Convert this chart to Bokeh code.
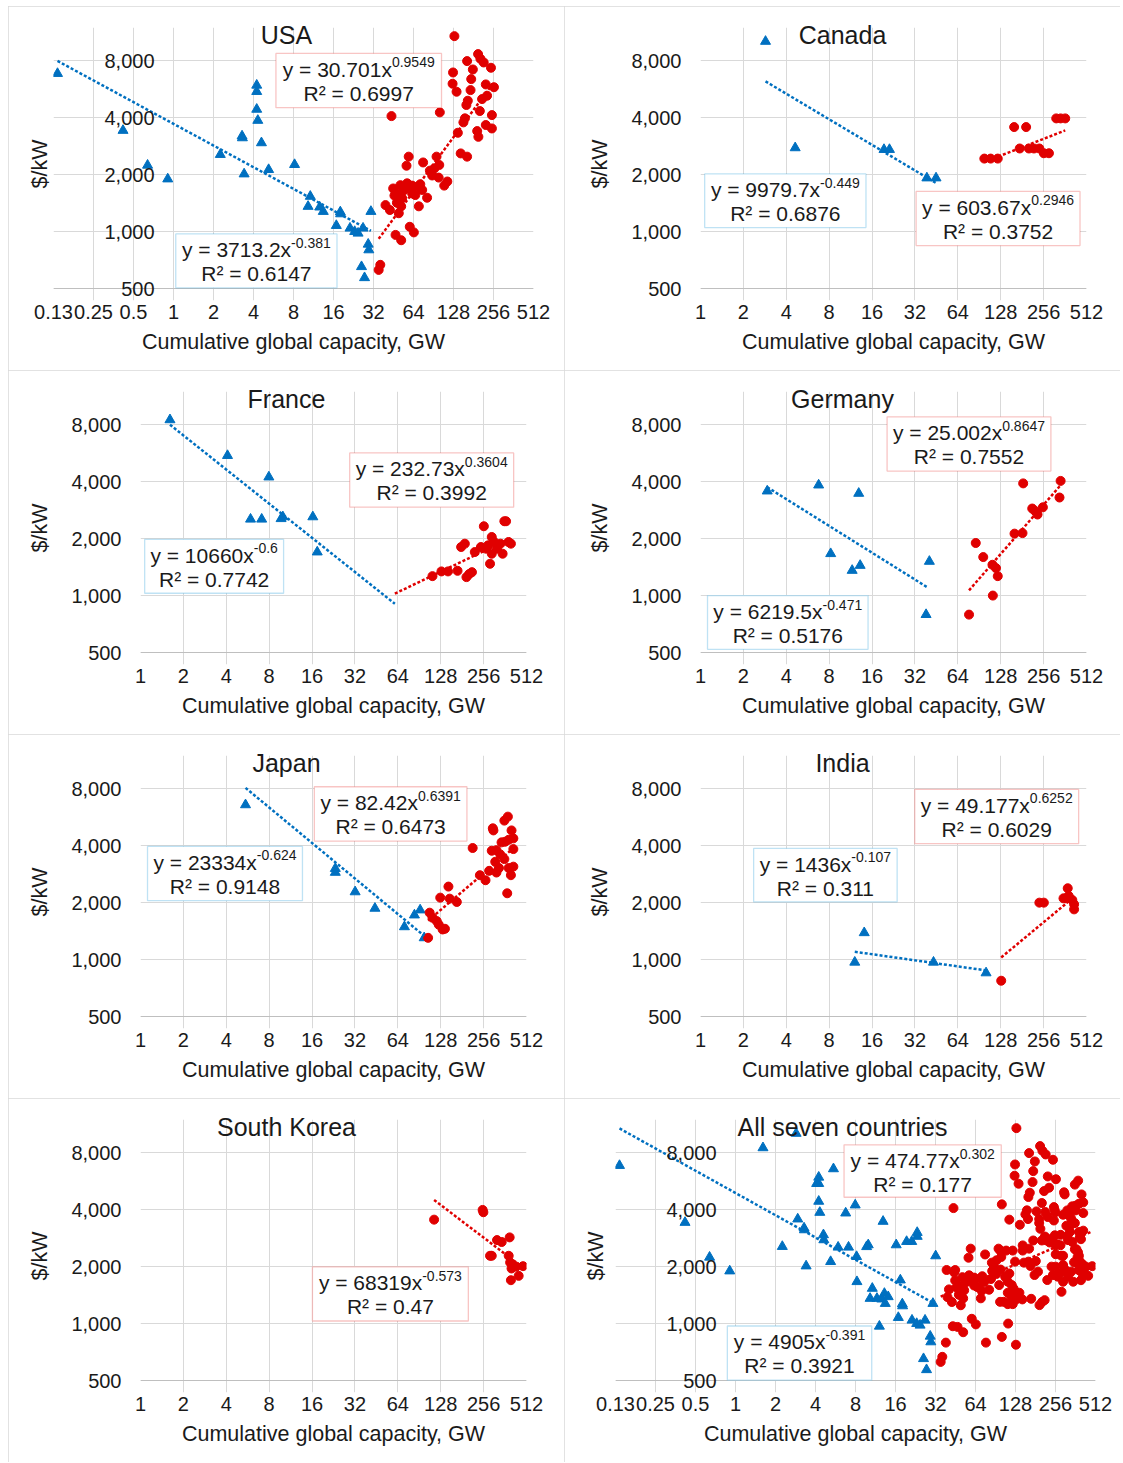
import math
from bokeh.plotting import figure
from bokeh.models import Range1d, FixedTicker, NumeralTickFormatter, BoxAnnotation, Label, Span
from bokeh.layouts import column, row
from bokeh.embed import file_html
from bokeh.resources import INLINE
from bokeh.core.properties import value

FONT = "Liberation Sans"
TXT = "#1A1A1A"
BLUE = "#0070C0"
RED = "#E00000"
BLUE_BOX = "#2B9FDC"
RED_BOX = "#E8403A"
GRID = "#D9D9D9"
AXIS = "#BFBFBF"

PW, PH = 556, 364
TOP, FRAME_H = 21, 261
PAD = 12          # extra view room below the 500 line so its label is never clipped

X_TICKS_WIDE = [0.125, 0.25, 0.5, 1, 2, 4, 8, 16, 32, 64, 128, 256, 512]
X_TICKS_NARROW = [1, 2, 4, 8, 16, 32, 64, 128, 256, 512]
X_LABELS = ["0.13", "0.25", "0.5", "1", "2", "4", "8", "16", "32", "64", "128", "256", "512"]
Y_TICKS = [500, 1000, 2000, 4000, 8000]
Y_LABELS = ["500", "1,000", "2,000", "4,000", "8,000"]
Y_MIN = 500
Y_MAX = 12000
X_AXIS_TITLE = "Cumulative global capacity, GW"
Y_AXIS_TITLE = "$/kW"

# ---------------- data (cumulative global capacity GW, $/kW) ----------------
usa_blue_x = [0.134, 0.417, 0.638, 0.905, 2.25, 3.28, 3.3, 3.4, 4.23, 4.23, 4.23, 4.31, 4.59, 5.2, 8.15,
              10.7, 10.3, 12.6, 13.4, 18.0, 18.1, 16.8, 21.3, 23.1, 24.5, 26.7, 30.6, 29.5, 29.2, 26.0, 27.4]
usa_blue_y = [6850, 3425, 2242, 1897, 2555, 3200, 3130, 2016, 5940, 5500, 4430, 3870, 2946, 2126, 2260,
              1535, 1358, 1347, 1277, 1270, 1240, 1076, 1042, 1000, 980, 1042, 1277, 800, 857, 652, 570]
usa_red_x = [130, 196, 204, 216, 162, 245, 179, 127, 126, 135, 174, 224, 258, 172, 229, 210, 164, 160, 202,
             249, 156, 152, 224, 249, 193, 197, 138, 101, 43.7, 145, 162, 58.9, 95.4, 75.6, 56.7, 92, 88.4,
             115, 109, 99, 45, 51, 57.3, 62.5, 69, 74.4, 81, 48.2, 52.6, 62.5, 70.2, 39.4, 42.5, 51.7, 49.6,
             60, 64.4, 46.9, 51.7, 36, 35, 46, 54, 60, 66, 72, 85, 100, 48]
usa_red_y = [10800, 8680, 8200, 7840, 7970, 7350, 7200, 6940, 6050, 5490, 6400, 6000, 5800, 5600, 5230, 5020,
             4920, 4670, 4340, 4130, 3970, 3780, 3660, 3510, 3400, 3170, 3330, 4270, 4080, 2590, 2490, 2490,
             2490, 2320, 2230, 2160, 1980, 1840, 1750, 1930, 1690, 1760, 1800, 1750, 1730, 1660, 1510, 1590,
             1500, 1590, 1360, 1380, 1300, 1360, 1250, 1060, 990, 960, 900, 667, 627, 1550, 1650, 1700,
             1560, 1780, 2100, 2250, 1420]

can_blue_x = [2.86, 4.62, 19.4, 21.2, 38.8, 45]
can_blue_y = [10130, 2772, 2715, 2715, 1920, 1920]
can_red_x = [98.2, 108.8, 122, 159, 193, 174, 202, 219, 239, 257, 279, 314, 337, 363]
can_red_y = [2432, 2432, 2432, 3570, 3570, 2750, 2750, 2750, 2750, 2596, 2596, 3967, 3967, 3967]

fra_blue_x = [1.61, 4.08, 7.96, 5.92, 7.09, 9.98, 9.7, 16.2, 17.4]
fra_blue_y = [8500, 5500, 4235, 2534, 2534, 2607, 2550, 2607, 1699]
fra_red_x = [112, 129.5, 144, 168, 194, 212, 203, 178, 189, 257, 358, 368, 222, 245, 275, 292, 304, 318,
             336, 348, 284, 292, 383, 398, 266]
fra_red_y = [1267, 1342, 1342, 1352, 1252, 1330, 1300, 1806, 1881, 2326, 2472, 2472, 1699, 1806, 1843, 2041,
             1920, 1770, 1881, 1665, 1473, 1665, 1920, 1881, 1770]

deu_blue_x = [2.94, 6.75, 12.9, 8.2, 11.6, 13.2, 40.4, 38.3]
deu_blue_y = [3570, 3840, 3470, 1665, 1358, 1443, 1516, 793]
deu_red_x = [76.7, 85.5, 96.5, 112, 118.6, 122, 112.7, 160, 182, 184, 213, 222, 232, 253, 337, 331]
deu_red_y = [793, 1897, 1598, 1455, 1397, 1267, 1000, 2126, 2140, 3920, 2886, 2810, 2683, 2930, 4040, 3300]

jpn_blue_x = [5.46, 23.3, 23.3, 32.1, 44.2, 71.2, 83.7, 91.8, 98]
jpn_blue_y = [6580, 3030, 2890, 2280, 1866, 1490, 1720, 1829, 1303]
jpn_red_x = [104.4, 107, 112, 120, 124, 132, 137, 127, 145, 148, 166, 214.5, 241, 264, 280, 297, 300, 292,
             315, 309, 315, 342, 362, 384, 358, 379, 402, 414, 414, 335, 358, 384, 398, 414, 375, 328]
jpn_red_y = [1303, 1770, 1665, 1598, 1530, 1443, 1455, 2126, 2432, 2100, 2017, 3890, 2794, 2628, 2946, 4945,
             4820, 3763, 3790, 3290, 2886, 4167, 4200, 4300, 5430, 5700, 4820, 4375, 3840, 3600, 3400, 3050,
             2794, 3100, 2242, 3050]

ind_blue_x = [12.1, 14.1, 43.2, 101]
ind_blue_y = [968, 1386, 968, 850]
ind_red_x = [129, 239, 257, 353, 378, 384, 407, 419, 419, 368]
ind_red_y = [773, 2000, 2000, 2108, 2383, 2170, 2066, 1960, 1843, 2108]

kor_blue_x = []
kor_blue_y = []
kor_red_x = [115, 252, 255, 318, 343, 284, 292, 390, 384, 393, 414, 402, 451, 398, 484, 434]
kor_red_y = [3545, 3990, 3880, 2764, 2700, 2283, 2283, 2856, 2283, 2104, 2021, 1956, 1788, 1696, 2012, 2000]

# the pooled panel splits every observation at this cumulative capacity
ALL_SPLIT_GW = 33

# power-law trendlines: [coefficient, exponent, x start, x end]
usa_blue_fit = [3713.2, -0.381, 0.134, 30.6]
usa_red_fit = [30.701, 0.9549, 35, 258]
can_blue_fit = [9979.7, -0.449, 2.86, 45]
can_red_fit = [603.67, 0.2946, 98.2, 363]
fra_blue_fit = [10660, -0.6, 1.61, 61]
fra_red_fit = [232.73, 0.3604, 61, 398]
deu_blue_fit = [6219.5, -0.471, 2.94, 38.7]
deu_red_fit = [25.002, 0.8647, 76.7, 337]
jpn_blue_fit = [23334, -0.624, 5.46, 98]
jpn_red_fit = [82.42, 0.6391, 104.4, 414]
ind_blue_fit = [1436, -0.107, 12.1, 101]
ind_red_fit = [49.177, 0.6252, 129, 419]
kor_red_fit = [68319, -0.573, 115, 484]
all_blue_fit = [4905, -0.391, 0.134, 30.6]
all_red_fit = [474.77, 0.302, 35, 484]

# equation labels: [main, superscript, r-squared]
usa_blue_eq = ["y = 3713.2x", "-0.381", "R² = 0.6147"]
usa_red_eq = ["y = 30.701x", "0.9549", "R² = 0.6997"]
can_blue_eq = ["y = 9979.7x", "-0.449", "R² = 0.6876"]
can_red_eq = ["y = 603.67x", "0.2946", "R² = 0.3752"]
fra_blue_eq = ["y = 10660x", "-0.6", "R² = 0.7742"]
fra_red_eq = ["y = 232.73x", "0.3604", "R² = 0.3992"]
deu_blue_eq = ["y = 6219.5x", "-0.471", "R² = 0.5176"]
deu_red_eq = ["y = 25.002x", "0.8647", "R² = 0.7552"]
jpn_blue_eq = ["y = 23334x", "-0.624", "R² = 0.9148"]
jpn_red_eq = ["y = 82.42x", "0.6391", "R² = 0.6473"]
ind_blue_eq = ["y = 1436x", "-0.107", "R² = 0.311"]
ind_red_eq = ["y = 49.177x", "0.6252", "R² = 0.6029"]
kor_red_eq = ["y = 68319x", "-0.573", "R² = 0.47"]
all_blue_eq = ["y = 4905x", "-0.391", "R² = 0.3921"]
all_red_eq = ["y = 474.77x", "0.302", "R² = 0.177"]

# label box placement in data units: [left, right, bottom, top]
usa_blue_box = [1.04, 17, 504, 972]
usa_red_box = [5.9, 104, 4520, 8750]
can_blue_box = [1.07, 14.5, 1050, 2017]
can_red_box = [32.6, 461, 843, 1630]
fra_blue_box = [1.07, 10.1, 1029, 1983]
fra_red_box = [29.4, 416, 2934, 5680]
deu_blue_box = [1.12, 15, 520, 1000]
deu_red_box = [20.4, 288, 4556, 8820]
jpn_blue_box = [1.12, 13.7, 2049, 3967]
jpn_red_box = [16.6, 195.5, 4235, 8200]
ind_blue_box = [2.36, 24, 2017, 3870]
ind_red_box = [31.9, 451, 4100, 7935]
kor_red_box = [16.1, 200, 1032, 1995]
all_blue_box = [0.868, 10.6, 502, 971]
all_red_box = [6.56, 100, 4655, 8820]

# ---------------- helpers ----------------
CW = {' ': 0.278, '=': 0.584, '.': 0.278, ',': 0.278, '-': 0.333, 'x': 0.5, 'y': 0.5, 'R': 0.722, '²': 0.333}


def text_w(s, size):
    return sum(CW.get(c, 0.556) for c in s) * size


def add_text(p, x, y, s, size, align="center", xo=0, yo=0, color=TXT):
    r = p.text(x=[x], y=[y], text=[s], x_offset=xo, y_offset=yo, text_align=align,
               text_baseline="middle", text_font=value(FONT), text_font_size=f"{size}px",
               text_color=color)
    r.level = "overlay"
    return r


def add_equation(p, eq, box, line_color):
    l, r, b, t = box
    p.add_layout(BoxAnnotation(left=l, right=r, bottom=b, top=t, fill_color="white", fill_alpha=1,
                               line_color=line_color, line_width=1.3, level="annotation"))
    xc = math.sqrt(l * r)
    wm = text_w(eq[0], 21)
    ws = text_w(eq[1], 14)
    shift = (wm - ws) / 2
    add_text(p, xc, t, eq[0], 21, align="right", xo=shift, yo=16)
    add_text(p, xc, t, eq[1], 14, align="left", xo=shift, yo=9)
    add_text(p, xc, t, eq[2], 21, align="center", yo=40)


def add_fit(p, fit, color):
    a, b, x0, x1 = fit
    p.line([x0, x1], [a * x0 ** b, a * x1 ** b], line_color=color, line_width=2.5, line_dash="3 2")


def style_text_axis(ax):
    ax.axis_label_text_font = FONT
    ax.axis_label_text_font_style = "normal"
    ax.axis_label_text_font_size = "21.5px"
    ax.axis_label_text_color = TXT
    ax.major_label_text_font = FONT
    ax.major_label_text_font_size = "20px"
    ax.major_label_text_color = TXT
    ax.major_tick_line_color = None
    ax.minor_tick_line_color = None
    ax.major_tick_out = 0
    ax.major_tick_in = 0


def make_panel(title, bx, by, rx, ry, fits, eqs, wide, left):
    if wide:
        xmin, frame_w, ticks = 0.125, 480, X_TICKS_WIDE
    else:
        xmin, frame_w, ticks = 1, 386, X_TICKS_NARROW
    right = PW - left - frame_w
    per_y = FRAME_H / math.log2(Y_MAX / Y_MIN)
    y_low = Y_MIN / 2 ** (PAD / per_y)
    p = figure(width=PW, height=PH, x_axis_type="log", y_axis_type="log",
               x_range=Range1d(xmin, 512), y_range=Range1d(y_low, Y_MAX),
               output_backend="svg", toolbar_location=None,
               min_border_left=left, min_border_right=right, min_border_top=TOP,
               min_border_bottom=PH - TOP - FRAME_H - PAD)
    p.outline_line_color = None
    p.background_fill_color = "white"
    p.border_fill_color = "white"
    p.styles = {"outline": "1px solid #D9D9D9", "outline-offset": "-1px"}

    p.xgrid.grid_line_color = GRID
    p.xgrid.bounds = (Y_MIN, Y_MAX)
    p.ygrid.grid_line_color = GRID
    p.ygrid.ticker = FixedTicker(ticks=Y_TICKS)

    xa = p.xaxis[0]
    style_text_axis(xa)
    xa.ticker = FixedTicker(ticks=ticks)
    xa.major_label_overrides = {t: lab for t, lab in zip(X_TICKS_WIDE, X_LABELS)}
    xa.axis_line_color = None
    xa.major_label_standoff = 16 - PAD
    xa.axis_label = X_AXIS_TITLE
    xa.axis_label_standoff = 8
    p.add_layout(Span(location=Y_MIN, dimension="width", line_color=AXIS, line_width=1.2))

    ya = p.yaxis[0]
    style_text_axis(ya)
    ya.axis_line_color = None
    ya.axis_label = Y_AXIS_TITLE
    if wide:
        # value axis crosses at x = 1, so its numbers sit inside the plot area
        ya.ticker = FixedTicker(ticks=[])
        ya.major_label_standoff = 0
        ya.axis_label_standoff = left - 31 - 12
        for t, lab in zip(Y_TICKS, Y_LABELS):
            p.add_layout(Label(x=1, y=t, text=lab, x_offset=-19, text_align="right",
                               text_baseline="middle", text_font=FONT, text_font_size="20px",
                               text_color=TXT))
    else:
        ya.ticker = FixedTicker(ticks=Y_TICKS)
        ya.formatter = NumeralTickFormatter(format="0,0")
        ya.major_label_standoff = 19
        ya.axis_label_standoff = 16

    if bx:
        p.scatter(bx, by, marker="triangle", size=10, fill_color=BLUE, line_color=BLUE)
    if rx:
        p.scatter(rx, ry, marker="circle", size=9, fill_color=RED, line_color=RED)
    for fit, color in fits:
        add_fit(p, fit, color)
    for eq, box, color in eqs:
        add_equation(p, eq, box, color)

    # title centred on the panel, overlapping the top of the plot area
    per = frame_w / math.log2(512 / xmin)
    xt = xmin * 2 ** ((PW / 2 - left) / per)
    add_text(p, xt, Y_MAX, title, 25, align="center", yo=7)
    return p


p_usa = make_panel("USA", usa_blue_x, usa_blue_y, usa_red_x, usa_red_y,
                   [(usa_blue_fit, BLUE), (usa_red_fit, RED)],
                   [(usa_red_eq, usa_red_box, RED_BOX), (usa_blue_eq, usa_blue_box, BLUE_BOX)], True, 45)
p_can = make_panel("Canada", can_blue_x, can_blue_y, can_red_x, can_red_y,
                   [(can_blue_fit, BLUE), (can_red_fit, RED)],
                   [(can_blue_eq, can_blue_box, BLUE_BOX), (can_red_eq, can_red_box, RED_BOX)], False, 136)
p_fra = make_panel("France", fra_blue_x, fra_blue_y, fra_red_x, fra_red_y,
                   [(fra_blue_fit, BLUE), (fra_red_fit, RED)],
                   [(fra_blue_eq, fra_blue_box, BLUE_BOX), (fra_red_eq, fra_red_box, RED_BOX)], False, 132)
p_deu = make_panel("Germany", deu_blue_x, deu_blue_y, deu_red_x, deu_red_y,
                   [(deu_blue_fit, BLUE), (deu_red_fit, RED)],
                   [(deu_blue_eq, deu_blue_box, BLUE_BOX), (deu_red_eq, deu_red_box, RED_BOX)], False, 136)
p_jpn = make_panel("Japan", jpn_blue_x, jpn_blue_y, jpn_red_x, jpn_red_y,
                   [(jpn_blue_fit, BLUE), (jpn_red_fit, RED)],
                   [(jpn_blue_eq, jpn_blue_box, BLUE_BOX), (jpn_red_eq, jpn_red_box, RED_BOX)], False, 132)
p_ind = make_panel("India", ind_blue_x, ind_blue_y, ind_red_x, ind_red_y,
                   [(ind_blue_fit, BLUE), (ind_red_fit, RED)],
                   [(ind_blue_eq, ind_blue_box, BLUE_BOX), (ind_red_eq, ind_red_box, RED_BOX)], False, 136)
p_kor = make_panel("South Korea", kor_blue_x, kor_blue_y, kor_red_x, kor_red_y,
                   [(kor_red_fit, RED)],
                   [(kor_red_eq, kor_red_box, RED_BOX)], False, 132)

all_x = (usa_blue_x + usa_red_x + can_blue_x + can_red_x + fra_blue_x + fra_red_x + deu_blue_x + deu_red_x
         + jpn_blue_x + jpn_red_x + ind_blue_x + ind_red_x + kor_red_x)
all_y = (usa_blue_y + usa_red_y + can_blue_y + can_red_y + fra_blue_y + fra_red_y + deu_blue_y + deu_red_y
         + jpn_blue_y + jpn_red_y + ind_blue_y + ind_red_y + kor_red_y)
all_blue_x = [x for x in all_x if x < ALL_SPLIT_GW]
all_blue_y = [y for x, y in zip(all_x, all_y) if x < ALL_SPLIT_GW]
all_red_x = [x for x in all_x if x >= ALL_SPLIT_GW]
all_red_y = [y for x, y in zip(all_x, all_y) if x >= ALL_SPLIT_GW]

p_all = make_panel("All seven countries", all_blue_x, all_blue_y, all_red_x, all_red_y,
                   [(all_blue_fit, BLUE), (all_red_fit, RED)],
                   [(all_red_eq, all_red_box, RED_BOX), (all_blue_eq, all_blue_box, BLUE_BOX)], True, 51)

layout = column(row(p_usa, p_can), row(p_fra, p_deu), row(p_jpn, p_ind), row(p_kor, p_all))
layout.margin = (6, 0, 0, 8)

open("out.html", "w").write(file_html(layout, INLINE))
